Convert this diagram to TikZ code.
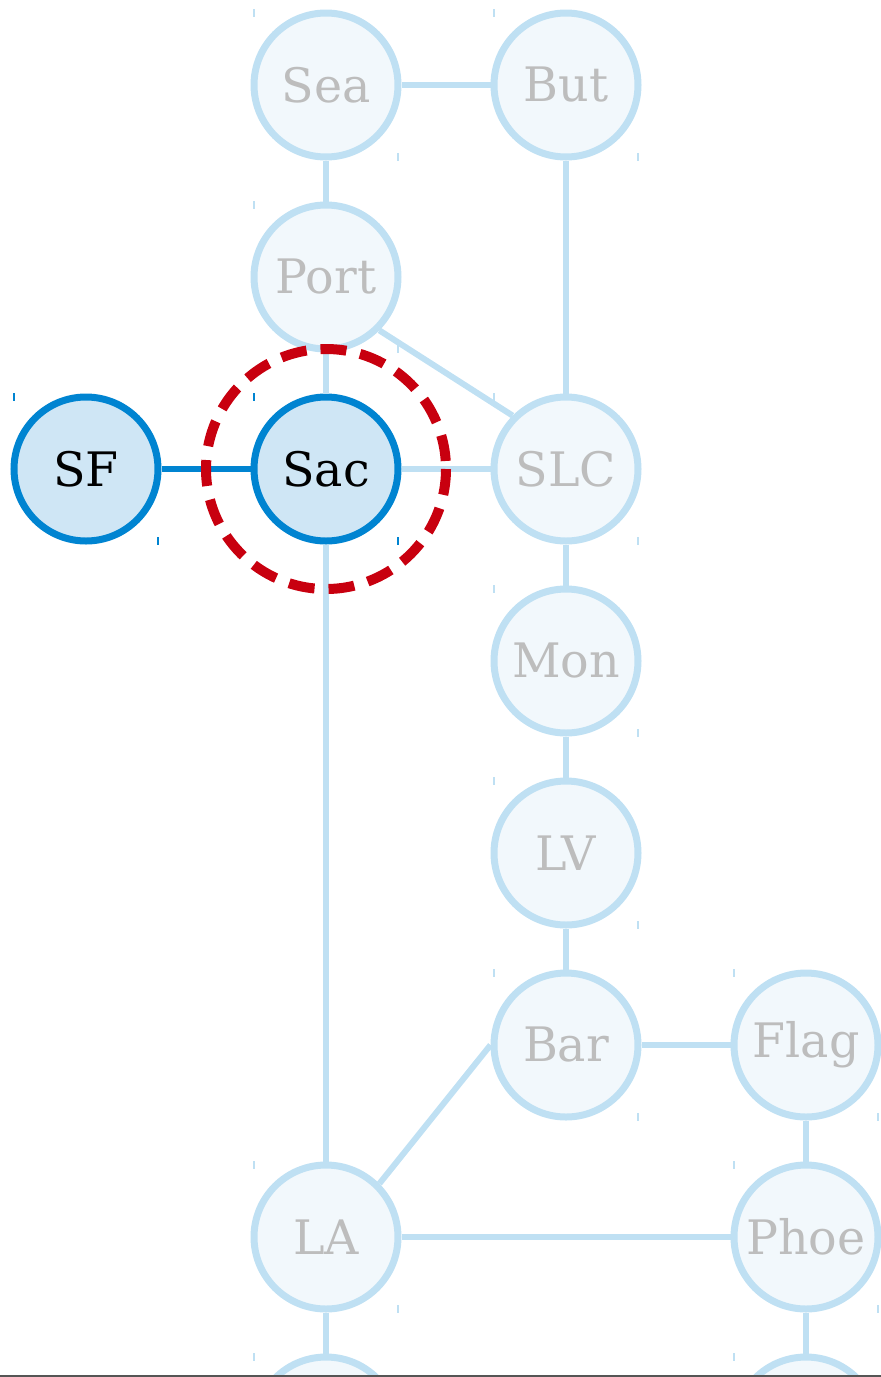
\documentclass[tikz,border=0pt]{standalone}
\usepackage{fontspec}
\setmainfont{DejaVu Serif}
\definecolor{lfill}{HTML}{F2F8FC}
\definecolor{lstroke}{HTML}{BFE0F3}
\definecolor{ltext}{HTML}{BDBDBD}
\definecolor{dfill}{HTML}{CFE6F5}
\definecolor{dstroke}{HTML}{0084D1}
\definecolor{hired}{HTML}{C8000F}
\definecolor{baseline}{HTML}{555555}
\begin{document}
\begin{tikzpicture}[x=1pt,y=-1pt,
  city/.style={circle, minimum size=144pt, inner sep=0pt, line width=7pt,
    draw=lstroke, fill=lfill, text=ltext, font=\fontsize{47.5}{52}\selectfont},
  activecity/.style={city, draw=dstroke, fill=dfill, text=black},
  road/.style={line width=6pt, draw=lstroke},
  activeroad/.style={line width=6pt, draw=dstroke},
  cornertick/.style={line width=1.2pt},
  focusring/.style={draw=hired, line width=10pt, dash pattern=on 26pt off 14pt}
]
\useasboundingbox (0,0) rectangle (881,1377);
\clip (0,0) rectangle (881,1377);

% nodes
\node[city] (Sea)  at (326,85)   {Sea};
\node[city] (But)  at (566,85)   {But};
\node[city] (Port) at (326,277)  {Port};
\node[activecity] (SF)  at (86,469)  {SF};
\node[activecity] (Sac) at (326,469) {Sac};
\node[city] (SLC)  at (566,469)  {SLC};
\node[city] (Mon)  at (566,661)  {Mon};
\node[city] (LV)   at (566,853)  {LV};
\node[city] (Bar)  at (566,1045) {Bar};
\node[city] (Flag) at (806,1045) {Flag};
\node[city] (LA)   at (326,1237) {LA};
\node[city] (Phoe) at (806,1237) {Phoe};
\node[city] (nextA) at (326,1429) {};
\node[city] (nextB) at (806,1429) {};

% roads
\draw[road] (Sea.east) -- (But.west);
\draw[road] (Sea.south) -- (Port.north);
\draw[road] (But.south) -- (SLC.north);
\draw[road] (Port.south) -- (Sac.north);
\draw[road] (Port.south east) -- (SLC.north west);
\draw[road] (Sac.east) -- (SLC.west);
\draw[road] (Sac.south) -- (LA.north);
\draw[road] (SLC.south) -- (Mon.north);
\draw[road] (Mon.south) -- (LV.north);
\draw[road] (LV.south) -- (Bar.north);
\draw[road] (Bar.east) -- (Flag.west);
\draw[road] (Bar.west) -- (LA.north east);
\draw[road] (Flag.south) -- (Phoe.north);
\draw[road] (LA.east) -- (Phoe.west);
\draw[road] (LA.south) -- (nextA.north);
\draw[road] (Phoe.south) -- (nextB.north);
\draw[activeroad] (SF.east) -- (Sac.west);

% small corner ticks
\foreach \n/\c in {Sea/lstroke,But/lstroke,Port/lstroke,SF/dstroke,Sac/dstroke,SLC/lstroke,Mon/lstroke,LV/lstroke,Bar/lstroke,Flag/lstroke,LA/lstroke,Phoe/lstroke,nextA/lstroke,nextB/lstroke}{
  \draw[cornertick, draw=\c] ([shift={(-72,-76)}]\n.center) -- ++(0,8);
  \draw[cornertick, draw=\c] ([shift={(72,68)}]\n.center) -- ++(0,8);
}

% focus ring
\draw[focusring] (Sac.center) circle[radius=120];

% bottom line
\draw[draw=baseline, line width=2pt] (0,1376) -- (881,1376);
\end{tikzpicture}
\end{document}
